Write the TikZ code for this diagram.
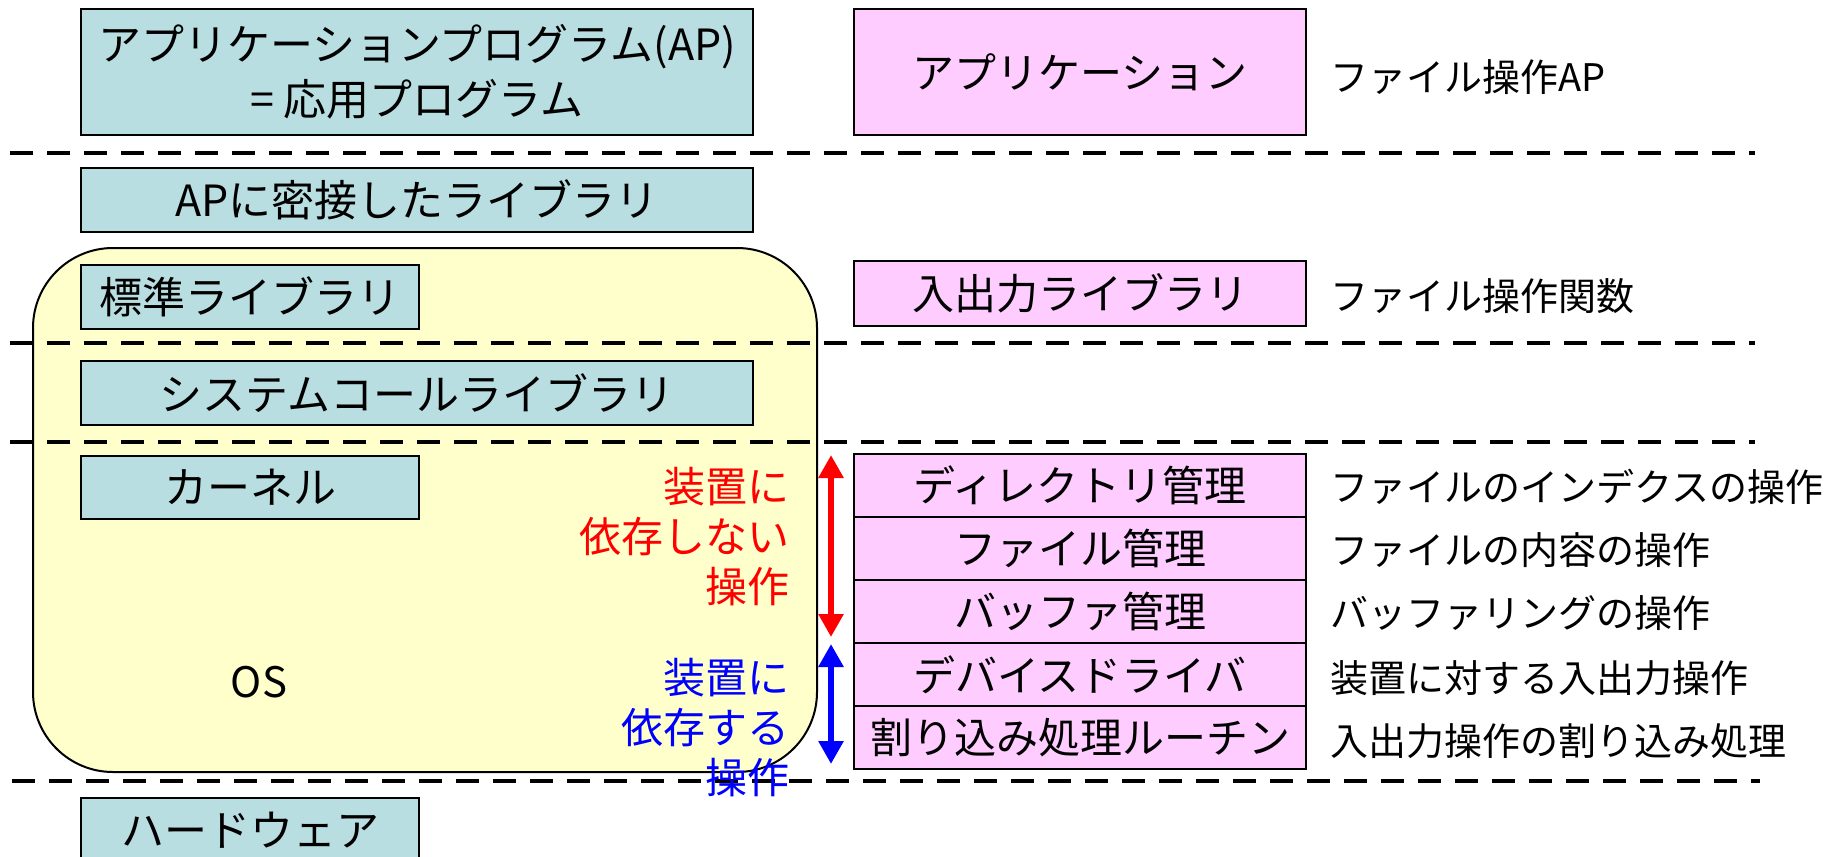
\documentclass[tikz,border=0pt]{standalone}
\usepackage{fontspec}
\setmainfont{Noto Sans CJK JP}
\usetikzlibrary{arrows.meta}
\definecolor{boxblue}{RGB}{185,222,226}
\definecolor{boxpink}{RGB}{255,204,255}
\definecolor{osyellow}{RGB}{255,255,204}
\begin{document}
\begin{tikzpicture}[x=0.5pt,y=-0.5pt,
  bluebox/.style={draw=black, line width=1.2pt, fill=boxblue, inner sep=0pt, align=center,
    font=\fontsize{21.5}{27.5}\selectfont},
  pinkbox/.style={draw=black, line width=1.2pt, fill=boxpink, inner sep=0pt,
    minimum width=226pt, font=\fontsize{21}{26}\selectfont},
  desc/.style={anchor=west, inner sep=0pt, font=\fontsize{19}{23}\selectfont},
  side/.style={anchor=east, inner sep=0pt, align=right, font=\fontsize{21}{25}\selectfont},
  sepline/.style={line width=1.6pt, dash pattern=on 11.5pt off 7pt},
  duo/.style={line width=3pt, {Triangle[width=12pt,length=11.5pt]}-{Triangle[width=12pt,length=11.5pt]}}]
\useasboundingbox (0,0) rectangle (1845,856);
\clip (0,0) rectangle (1845,856);

% OS region
\node[draw=black, line width=1pt, fill=osyellow, rounded corners=40pt,
  minimum width=392pt, minimum height=262pt, inner sep=0pt] (os) at (425,510) {};

% separators
\coordinate (s1a) at (10,153);  \coordinate (s1b) at (1755,153);
\coordinate (s2a) at (10,343);  \coordinate (s2b) at (1755,343);
\coordinate (s3a) at (10,442);  \coordinate (s3b) at (1755,442);
\coordinate (s4a) at (12,781);  \coordinate (s4b) at (1760,781);
\draw[sepline] (s1a) -- (s1b);
\draw[sepline] (s2a) -- (s2b);
\draw[sepline] (s3a) -- (s3b);
\draw[sepline] (s4a) -- (s4b);

% left column
\node[bluebox, minimum width=336pt, minimum height=63pt] (ap) at (417,72)
  {アプリケーションプログラム(AP)\\= 応用プログラム};
\node[bluebox, minimum width=336pt, minimum height=32pt] (apl) at (417,200) {APに密接したライブラリ};
\node[bluebox, minimum width=169pt, minimum height=32pt] (std) at (250,297) {標準ライブラリ};
\node[bluebox, minimum width=336pt, minimum height=32pt] (sys) at (417,393) {システムコールライブラリ};
\node[bluebox, minimum width=169pt, minimum height=31.5pt] (kern) at (250,487.5) {カーネル};
\node[bluebox, minimum width=169pt, minimum height=32pt] (hw) at (250,830) {ハードウェア};
\node[inner sep=0pt, font=\fontsize{21}{25}\selectfont] (oslabel) at (259,682) {OS};

% side labels and arrows
\node[side, text=red] (indep) at (790,537) {装置に\\依存しない\\操作};
\node[side, text=blue] (dep) at (790,728) {装置に\\依存する\\操作};
\coordinate (ra) at (831,455); \coordinate (rb) at (831,637);
\coordinate (ba) at (831,644); \coordinate (bb) at (831,764);
\draw[duo, red] (ra) -- (rb);
\draw[duo, blue] (ba) -- (bb);

% right column
\node[pinkbox, minimum height=63pt] (app) at (1080,72) {アプリケーション};
\node[pinkbox, minimum height=32.5pt] (io) at (1080,293.5) {入出力ライブラリ};
\node[pinkbox, minimum height=31.5pt] (dir) at (1080,485.5) {ディレクトリ管理};
\node[pinkbox, minimum height=31.5pt] (file) at (1080,548.5) {ファイル管理};
\node[pinkbox, minimum height=31.5pt] (buf) at (1080,611.5) {バッファ管理};
\node[pinkbox, minimum height=31.5pt] (drv) at (1080,674.5) {デバイスドライバ};
\node[pinkbox, minimum height=31.5pt] (intr) at (1080,737.5) {割り込み処理ルーチン};

% descriptions
\node[desc] (d1) at (1330,77) {ファイル操作AP};
\node[desc] (d2) at (1330,296) {ファイル操作関数};
\node[desc] (d3) at (1330,487) {ファイルのインデクスの操作};
\node[desc] (d4) at (1330,550) {ファイルの内容の操作};
\node[desc] (d5) at (1330,613) {バッファリングの操作};
\node[desc] (d6) at (1330,678) {装置に対する入出力操作};
\node[desc] (d7) at (1330,741) {入出力操作の割り込み処理};
\end{tikzpicture}
\end{document}
